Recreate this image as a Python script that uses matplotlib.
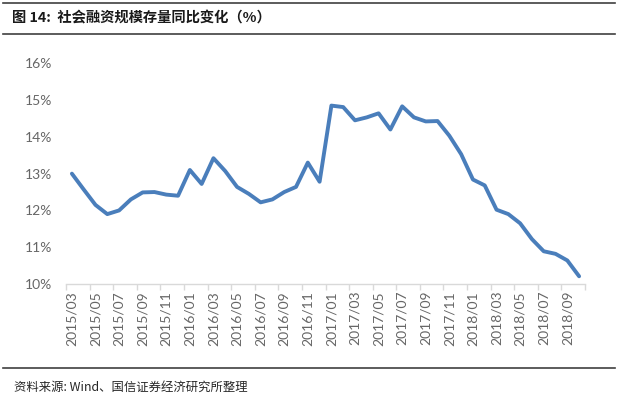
import matplotlib.pyplot as plt
import numpy as np
from matplotlib.ticker import FixedLocator, FuncFormatter

# month labels 2015/03 .. 2018/10
months = []
for y in range(2015, 2019):
    for m in range(1, 13):
        if (y == 2015 and m < 3) or (y == 2018 and m > 10):
            continue
        months.append("%d/%02d" % (y, m))

# social financing stock, yoy growth (%)
growth = [13.0, 12.57, 12.15, 11.9, 12.0, 12.3, 12.49, 12.5, 12.43, 12.4,
          13.1, 12.72, 13.42, 13.07, 12.64, 12.45, 12.22, 12.3, 12.5, 12.64, 13.3, 12.78,
          14.85, 14.81, 14.45, 14.53, 14.64, 14.2, 14.83, 14.53, 14.42, 14.43, 14.03, 13.53,
          12.84, 12.68, 12.02, 11.9, 11.65, 11.22, 10.89, 10.82, 10.64, 10.21]

yticks = [10, 11, 12, 13, 14, 15, 16]

title = "图 14:  社会融资规模存量同比变化（%）"
source = "资料来源: Wind、国信证券经济研究所整理"

plt.rcParams['font.family'] = ['Lato', 'Noto Sans CJK SC', 'DejaVu Sans']

fig = plt.figure(figsize=(6.2, 3.95), dpi=100)
ax = fig.add_axes([66/620, 1 - 284/395, (585 - 66)/620, (284 - 63.3)/395])

x = np.arange(len(months))
ax.plot(x, growth, color='#4a7ebb', lw=2.8, solid_joinstyle='round', solid_capstyle='round')

ax.set_xlim(-0.5, len(months) - 0.5)
ax.set_ylim(10, 16)

# labels every 2 months, tick marks on category boundaries
ax.set_xticks(x[::2])
ax.set_xticklabels(months[::2], rotation=90)
ax.xaxis.set_minor_locator(FixedLocator(np.arange(-0.5, len(months), 2)))
ax.tick_params(axis='x', which='major', length=0, pad=5, labelsize=10, labelcolor='#666666')
ax.tick_params(axis='x', which='minor', length=4, color='#d9d9d9', width=1)

ax.set_yticks(yticks)
ax.yaxis.set_major_formatter(FuncFormatter(lambda v, p: "%d%%" % v))
ax.tick_params(axis='y', length=0, pad=10, labelsize=10, labelcolor='#666666')

for s in ['top', 'right', 'left']:
    ax.spines[s].set_visible(False)
ax.spines['bottom'].set_color('#d9d9d9')
ax.spines['bottom'].set_linewidth(1)

# header / footer rules and texts
fig.add_artist(plt.Line2D([3/620, 615/620], [1 - 3/395, 1 - 3/395], color='#404040', lw=1.2))
fig.add_artist(plt.Line2D([3/620, 615/620], [1 - 34/395, 1 - 34/395], color='#404040', lw=1.2))
fig.add_artist(plt.Line2D([3/620, 615/620], [1 - 367.5/395, 1 - 367.5/395], color='#404040', lw=1.2))

fig.text(12/620, 1 - 18/395, title, fontsize=10.3, fontweight='bold', va='center', ha='left',
         family=['Noto Sans CJK SC', 'DejaVu Sans'], color='#1a1a1a')
fig.text(14/620, 1 - 387/395, source, fontsize=8.9, va='center', ha='left',
         family=['Noto Sans CJK SC', 'DejaVu Sans'], color='#262626')

fig.savefig('out.png', dpi=100)
